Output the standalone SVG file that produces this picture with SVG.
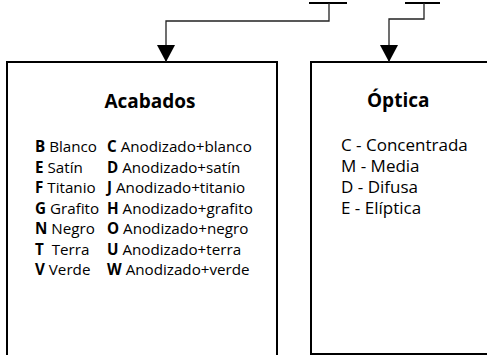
<svg xmlns="http://www.w3.org/2000/svg" width="487" height="355" viewBox="0 0 487 355">
<style>
.box{fill:#fff;stroke:#000;stroke-width:2}
.title{font-family:"Open Sans","Liberation Sans",sans-serif;font-weight:bold;font-size:19px;fill:#000}
.item{font-family:"Open Sans","Liberation Sans",sans-serif;font-size:15.2px;fill:#000;white-space:pre}
.opt{font-family:"Open Sans","Liberation Sans",sans-serif;font-size:17px;fill:#000}
.b{font-weight:bold}
.wire{fill:none;stroke:#222;stroke-width:1.3}
.bar{stroke:#000;stroke-width:2.2}
</style>
<defs>
<marker id="arrow" markerUnits="userSpaceOnUse" markerWidth="18" markerHeight="18" refX="9" refY="17" orient="0" viewBox="0 0 18 18">
<polygon points="0,0 18,0 9,17" fill="#000"/>
</marker>
</defs>
<g id="acabados">
<rect class="box" x="7" y="62" width="270" height="300"/>
<text class="title" x="150" y="108" text-anchor="middle">Acabados</text>
<text class="item" x="35" y="152"><tspan class="b">B</tspan> Blanco</text>
<text class="item" x="35" y="172.5"><tspan class="b">E</tspan> Satín</text>
<text class="item" x="35" y="193"><tspan class="b">F</tspan> Titanio</text>
<text class="item" x="35" y="213.5"><tspan class="b">G</tspan> Grafito</text>
<text class="item" x="35" y="234"><tspan class="b">N</tspan> Negro</text>
<text class="item" x="35" y="254.5"><tspan class="b">T</tspan>  Terra</text>
<text class="item" x="35" y="275"><tspan class="b">V</tspan> Verde</text>
<text class="item" x="107" y="152"><tspan class="b">C</tspan> Anodizado+blanco</text>
<text class="item" x="107" y="172.5"><tspan class="b">D</tspan> Anodizado+satín</text>
<text class="item" x="107" y="193"><tspan class="b">J</tspan> Anodizado+titanio</text>
<text class="item" x="107" y="213.5"><tspan class="b">H</tspan> Anodizado+grafito</text>
<text class="item" x="107" y="234"><tspan class="b">O</tspan> Anodizado+negro</text>
<text class="item" x="107" y="254.5"><tspan class="b">U</tspan> Anodizado+terra</text>
<text class="item" x="107" y="275"><tspan class="b">W</tspan> Anodizado+verde</text>
</g>
<g id="optica">
<rect class="box" x="311" y="62" width="190" height="292"/>
<text class="title" x="367" y="107">Óptica</text>
<text class="opt" x="341" y="151">C - Concentrada</text>
<text class="opt" x="341" y="172">M - Media</text>
<text class="opt" x="341" y="193">D - Difusa</text>
<text class="opt" x="341" y="214">E - Elíptica</text>
</g>
<g id="connectors">
<line class="bar" x1="309" y1="3" x2="347" y2="3"/>
<line class="bar" x1="405" y1="3" x2="440" y2="3"/>
<path class="wire" d="M329,3 V21 H166 V62" marker-end="url(#arrow)"/>
<path class="wire" d="M424,3 V19 H389 V62" marker-end="url(#arrow)"/>
</g>
</svg>
